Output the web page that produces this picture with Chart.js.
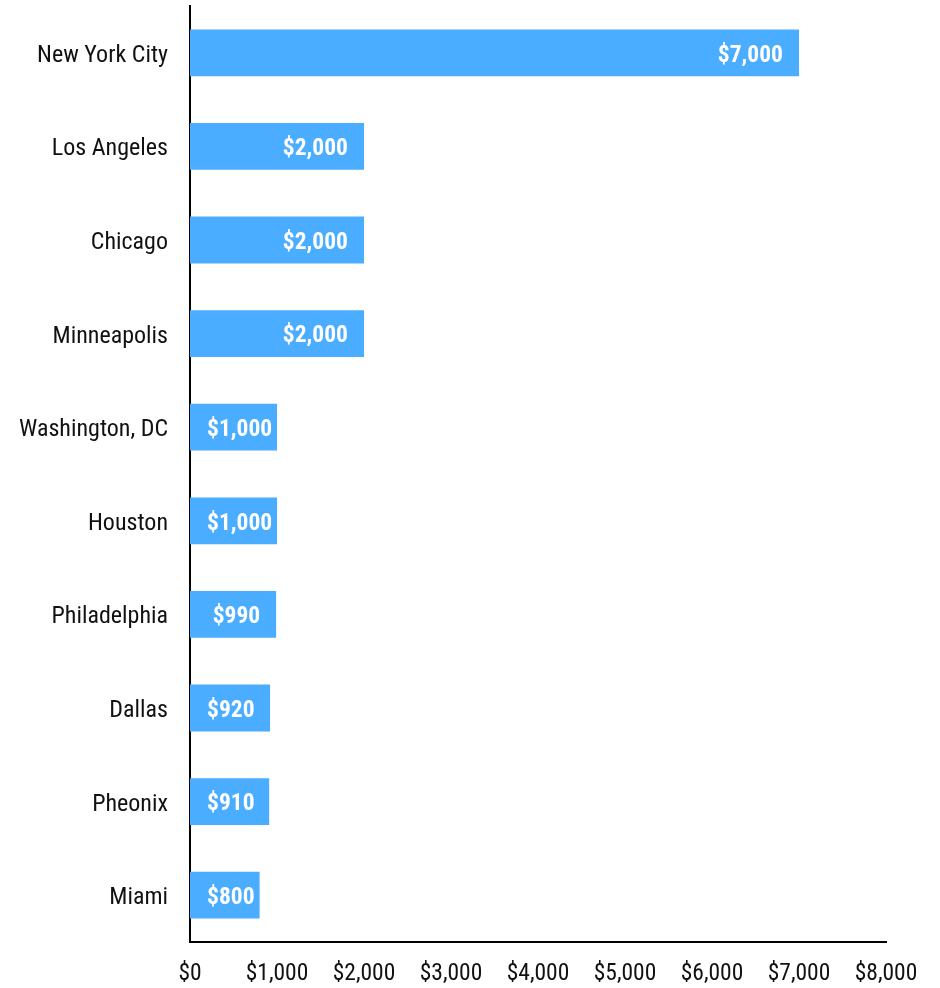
<!DOCTYPE html>
<html>
<head>
<meta charset="utf-8">
<script src="https://cdn.jsdelivr.net/npm/chart.js@4/dist/chart.umd.min.js"></script>
<style>
  html, body { margin: 0; padding: 0; background: #fff; }
  #wrap { width: 940px; height: 988px; }
</style>
</head>
<body>
<div id="wrap"><canvas id="chart" width="940" height="988"></canvas></div>
<script>
const cities = ['New York City', 'Los Angeles', 'Chicago', 'Minneapolis', 'Washington, DC',
  'Houston', 'Philadelphia', 'Dallas', 'Pheonix', 'Miami'];
const prices = [7000, 2000, 2000, 2000, 1000, 1000, 990, 920, 910, 800];
const xTicks = [0, 1000, 2000, 3000, 4000, 5000, 6000, 7000, 8000];

const FONT = "'Roboto Condensed', 'Liberation Sans Narrow', 'Arial Narrow', Roboto, sans-serif";
const money = (v) => '$' + Number(v).toLocaleString('en-US');

// value labels drawn inside the bar end, pushed right when the bar is short
const barLabels = {
  id: 'barLabels',
  afterDatasetsDraw(chart) {
    const { ctx } = chart;
    const meta = chart.getDatasetMeta(0);
    ctx.save();
    ctx.font = `bold 23.5px ${FONT}`;
    ctx.fillStyle = '#fff';
    ctx.textBaseline = 'middle';
    ctx.textAlign = 'left';
    meta.data.forEach((bar, i) => {
      const { x, y, base } = bar.getProps(['x', 'y', 'base'], true);
      const text = money(prices[i]);
      const w = ctx.measureText(text).width;
      let left = x - 16 - w;
      if (left < base + 17) left = base + 17;
      ctx.fillText(text, left, y + 3);
    });
    ctx.restore();
  }
};

new Chart(document.getElementById('chart'), {
  type: 'bar',
  data: {
    labels: cities,
    datasets: [{
      data: prices,
      backgroundColor: '#4badff',
      borderWidth: 0,
      barPercentage: 0.5,
      categoryPercentage: 1
    }]
  },
  options: {
    indexAxis: 'y',
    responsive: false,
    animation: false,
    layout: { padding: { top: 6, right: 54, left: 0, bottom: 0 } },
    plugins: {
      legend: { display: false },
      tooltip: { enabled: false }
    },
    scales: {
      x: {
        min: 0,
        max: 8000,
        afterBuildTicks: (scale) => { scale.ticks = xTicks.map(v => ({ value: v })); },
        afterFit: (scale) => {
          scale.height = 46;
          scale.paddingLeft = 0;
          scale.paddingRight = 0;
        },
        grid: { display: false, drawTicks: false },
        border: { display: true, color: '#000', width: 2 },
        ticks: {
          padding: 18,
          color: '#111',
          font: { family: FONT, size: 23.5 },
          maxRotation: 0,
          autoSkip: false,
          callback: (v) => money(v)
        }
      },
      y: {
        afterFit: (scale) => {
          scale.width = 190;
          scale.paddingTop = 0;
          scale.paddingBottom = 0;
        },
        grid: { display: false, drawTicks: false },
        border: { display: true, color: '#000', width: 2 },
        ticks: {
          padding: 22,
          labelOffset: 3,
          color: '#111',
          font: { family: FONT, size: 24 }
        }
      }
    }
  },
  plugins: [barLabels]
});
</script>
</body>
</html>
